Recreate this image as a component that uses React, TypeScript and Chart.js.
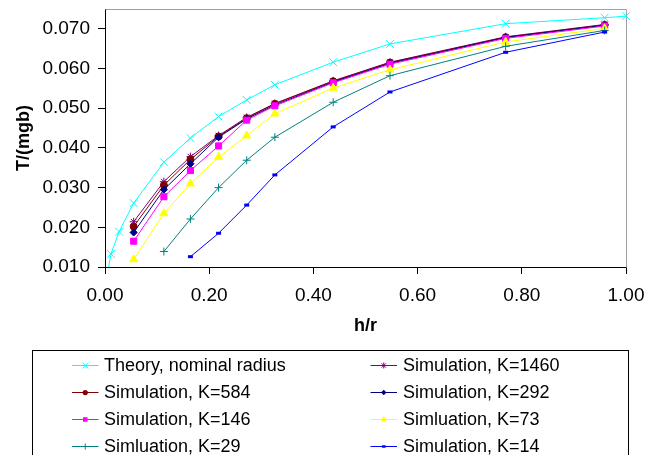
import React, { useEffect, useRef } from 'react';
import { Chart, registerables } from 'chart.js';

Chart.register(...registerables);

// ---------- data ----------
const X_THEORY = [0.005, 0.0115, 0.027, 0.055, 0.113, 0.164, 0.218, 0.272, 0.326, 0.438, 0.547, 0.769, 0.959, 1.0];
const Y_THEORY = [0.0085, 0.0133, 0.0189, 0.0261, 0.0364, 0.0425, 0.0479, 0.0521, 0.0559, 0.0616, 0.0662, 0.0713, 0.0728, 0.0732];

const X_SIM = [0.055, 0.113, 0.164, 0.218, 0.272, 0.326, 0.438, 0.547, 0.769, 0.959];
const Y_K1460 = [0.0214, 0.0315, 0.0378, 0.0431, 0.0477, 0.0512, 0.0569, 0.0616, 0.0680, 0.0711];
const Y_K584 = [0.0202, 0.0306, 0.0371, 0.0429, 0.0475, 0.0511, 0.0568, 0.0615, 0.0679, 0.0710];
const Y_K292 = [0.0187, 0.0295, 0.0360, 0.0427, 0.0473, 0.0508, 0.0566, 0.0613, 0.0678, 0.0709];
const Y_K146 = [0.0165, 0.0277, 0.0343, 0.0405, 0.0470, 0.0506, 0.0564, 0.0611, 0.0676, 0.0707];
const Y_K73 = [0.0119, 0.0235, 0.0310, 0.0377, 0.0431, 0.0486, 0.0551, 0.0597, 0.0667, 0.0701];

const X_K29 = [0.113, 0.164, 0.218, 0.272, 0.326, 0.438, 0.547, 0.769, 0.959];
const Y_K29 = [0.0139, 0.0221, 0.0300, 0.0369, 0.0427, 0.0515, 0.0582, 0.0656, 0.0696];

const X_K14 = [0.164, 0.218, 0.272, 0.326, 0.438, 0.547, 0.769, 0.959];
const Y_K14 = [0.0126, 0.0185, 0.0256, 0.0332, 0.0453, 0.0541, 0.0641, 0.0692];

const X_TICKS = [0, 0.2, 0.4, 0.6, 0.8, 1.0];
const Y_TICKS = [0.01, 0.02, 0.03, 0.04, 0.05, 0.06, 0.07];

const LABELS = [
  'Theory, nominal radius',
  'Simulation, K=1460',
  'Simulation, K=584',
  'Simulation, K=292',
  'Simulation, K=146',
  'Simluation, K=73',
  'Simluation, K=29',
  'Simulation, K=14',
];

const FONT = '"Liberation Sans", Arial, sans-serif';

type Style = { color: string; point: string; r: number; bw: number };
const STYLES: Style[] = [
  { color: '#00FFFF', point: 'crossRot', r: 5.5, bw: 1 },
  { color: '#800080', point: 'star', r: 4, bw: 1 },
  { color: '#800000', point: 'circle', r: 3.5, bw: 1 },
  { color: '#000080', point: 'rectRot', r: 3.6, bw: 1 },
  { color: '#FF00FF', point: 'rect', r: 4.3, bw: 1 },
  { color: '#FFFF00', point: 'triangle', r: 4.6, bw: 1 },
  { color: '#008080', point: 'cross', r: 4, bw: 1 },
  { color: '#0000FF', point: 'line', r: 2.5, bw: 3 },
];

function pts(xs: number[], ys: number[]) {
  return xs.map((x, i) => ({ x, y: ys[i] }));
}

function drawMarker(ctx: CanvasRenderingContext2D, style: string, x: number, y: number, r: number, color: string, bw: number) {
  ctx.save();
  ctx.strokeStyle = color;
  ctx.fillStyle = color;
  ctx.lineWidth = bw;
  ctx.beginPath();
  const d = r * Math.SQRT1_2;
  switch (style) {
    case 'circle':
      ctx.arc(x, y, r, 0, Math.PI * 2);
      ctx.fill();
      break;
    case 'rect':
      ctx.rect(x - d, y - d, 2 * d, 2 * d);
      ctx.fill();
      break;
    case 'rectRot':
      ctx.moveTo(x, y - r);
      ctx.lineTo(x + r, y);
      ctx.lineTo(x, y + r);
      ctx.lineTo(x - r, y);
      ctx.closePath();
      ctx.fill();
      break;
    case 'triangle': {
      ctx.moveTo(x, y - r);
      ctx.lineTo(x + r * 0.866, y + r * 0.5);
      ctx.lineTo(x - r * 0.866, y + r * 0.5);
      ctx.closePath();
      ctx.fill();
      break;
    }
    case 'cross':
      ctx.moveTo(x - r, y);
      ctx.lineTo(x + r, y);
      ctx.moveTo(x, y - r);
      ctx.lineTo(x, y + r);
      ctx.stroke();
      break;
    case 'crossRot':
      ctx.moveTo(x - d, y - d);
      ctx.lineTo(x + d, y + d);
      ctx.moveTo(x - d, y + d);
      ctx.lineTo(x + d, y - d);
      ctx.stroke();
      break;
    case 'star':
      ctx.moveTo(x - r, y);
      ctx.lineTo(x + r, y);
      ctx.moveTo(x, y - r);
      ctx.lineTo(x, y + r);
      ctx.moveTo(x - d, y - d);
      ctx.lineTo(x + d, y + d);
      ctx.moveTo(x - d, y + d);
      ctx.lineTo(x + d, y - d);
      ctx.stroke();
      break;
    case 'line':
      ctx.moveTo(x - r, y);
      ctx.lineTo(x + r, y);
      ctx.stroke();
      break;
  }
  ctx.restore();
}

const framePlugin = {
  id: 'frameAndLegend',
  beforeDatasetsDraw(chart: any) {
    const { ctx, chartArea: a } = chart;
    ctx.save();
    ctx.strokeStyle = '#A0A0A0';
    ctx.lineWidth = 1;
    ctx.beginPath();
    const l = Math.round(a.left) + 0.5;
    const t = Math.round(a.top) + 0.5;
    const rr = Math.round(a.right) + 0.5;
    const b = Math.round(a.bottom) + 0.5;
    ctx.moveTo(l, t);
    ctx.lineTo(rr, t);
    ctx.lineTo(rr, b);
    ctx.stroke();
    ctx.restore();
  },
  afterDraw(chart: any) {
    const ctx: CanvasRenderingContext2D = chart.ctx;
    ctx.save();
    // legend box
    ctx.strokeStyle = '#000';
    ctx.lineWidth = 1;
    ctx.strokeRect(32.5, 350.5, 596, 160);
    const colLine = [72, 370.5];
    const colText = [104, 403];
    const lineLen = 26.5;
    ctx.font = `18px ${FONT}`;
    ctx.textBaseline = 'middle';
    ctx.textAlign = 'left';
    chart.data.datasets.forEach((ds: any, i: number) => {
      const row = Math.floor(i / 2);
      const col = i % 2;
      const y = 365 + row * 27;
      const st = STYLES[i];
      ctx.strokeStyle = ds.borderColor;
      ctx.lineWidth = 1;
      ctx.beginPath();
      ctx.moveTo(colLine[col], y + 0.5);
      ctx.lineTo(colLine[col] + lineLen, y + 0.5);
      ctx.stroke();
      drawMarker(ctx, st.point, colLine[col] + lineLen / 2, y + 0.5, st.r * 0.75, st.color, st.bw === 1 ? 1 : 2.5);
      ctx.fillStyle = '#000';
      ctx.fillText(ds.label, colText[col], y + 1);
    });
    ctx.restore();
  },
};

export default function App() {
  const ref = useRef<HTMLCanvasElement | null>(null);
  useEffect(() => {
    if (!ref.current) return;
    const series = [
      pts(X_THEORY, Y_THEORY),
      pts(X_SIM, Y_K1460),
      pts(X_SIM, Y_K584),
      pts(X_SIM, Y_K292),
      pts(X_SIM, Y_K146),
      pts(X_SIM, Y_K73),
      pts(X_K29, Y_K29),
      pts(X_K14, Y_K14),
    ];
    const datasets = series.map((data, i) => {
      const st = STYLES[i];
      return {
        label: LABELS[i],
        data,
        borderColor: st.color,
        backgroundColor: st.color,
        borderWidth: 1,
        pointStyle: st.point,
        pointRadius: st.r,
        pointHoverRadius: st.r,
        pointBorderWidth: st.bw,
        pointBorderColor: st.color,
        pointBackgroundColor: st.color,
        fill: false,
        tension: 0,
        order: 20 - i,
        clip: { left: 1, top: 8, right: 8, bottom: 0 },
      };
    });
    const chart = new Chart(ref.current, {
      type: 'line',
      data: { datasets } as any,
      plugins: [framePlugin as any],
      options: {
        animation: false,
        responsive: false,
        devicePixelRatio: 1,
        layout: { padding: { left: 0, top: 9, right: 29, bottom: 118 } },
        plugins: { legend: { display: false }, tooltip: { enabled: false } },
        events: [],
        scales: {
          x: {
            type: 'linear',
            min: 0,
            max: 1,
            afterBuildTicks: (s: any) => {
              s.ticks = X_TICKS.map((v) => ({ value: v }));
            },
            afterFit: (s: any) => {
              s.height = 70;
              s.paddingLeft = 0;
              s.paddingRight = 0;
            },
            grid: { display: true, drawOnChartArea: false, drawTicks: true, tickLength: 7, color: '#000' },
            border: { display: true, color: '#000', width: 1 },
            ticks: {
              color: '#000',
              font: { family: FONT, size: 19 },
              padding: 10,
              maxRotation: 0,
              callback: (v: any) => Number(v).toFixed(2),
            },
            title: {
              display: true,
              text: 'h/r',
              color: '#000',
              font: { family: FONT, size: 18, weight: 'bold' },
              padding: { top: 0, bottom: 0 },
            },
          },
          y: {
            type: 'linear',
            min: 0.01,
            max: 0.075,
            afterBuildTicks: (s: any) => {
              s.ticks = Y_TICKS.map((v) => ({ value: v }));
            },
            afterFit: (s: any) => {
              s.width = 105;
              s.paddingTop = 0;
              s.paddingBottom = 0;
            },
            grid: { display: true, drawOnChartArea: false, drawTicks: true, tickLength: 7, color: '#000' },
            border: { display: true, color: '#000', width: 1 },
            ticks: {
              color: '#000',
              font: { family: FONT, size: 19 },
              padding: 8,
              callback: (v: any) => Number(v).toFixed(3),
            },
            title: {
              display: true,
              text: 'T/(mgb)',
              color: '#000',
              font: { family: FONT, size: 18, weight: 'bold' },
              padding: { top: 13, bottom: 0 },
            },
          },
        },
      } as any,
    });
    return () => chart.destroy();
  }, []);
  return (
    <div style={{ position: 'fixed', left: 0, top: 0, width: 655, height: 455, background: '#fff' }}>
      <canvas ref={ref} width={655} height={455} style={{ width: 655, height: 455, display: 'block' }} />
    </div>
  );
}
